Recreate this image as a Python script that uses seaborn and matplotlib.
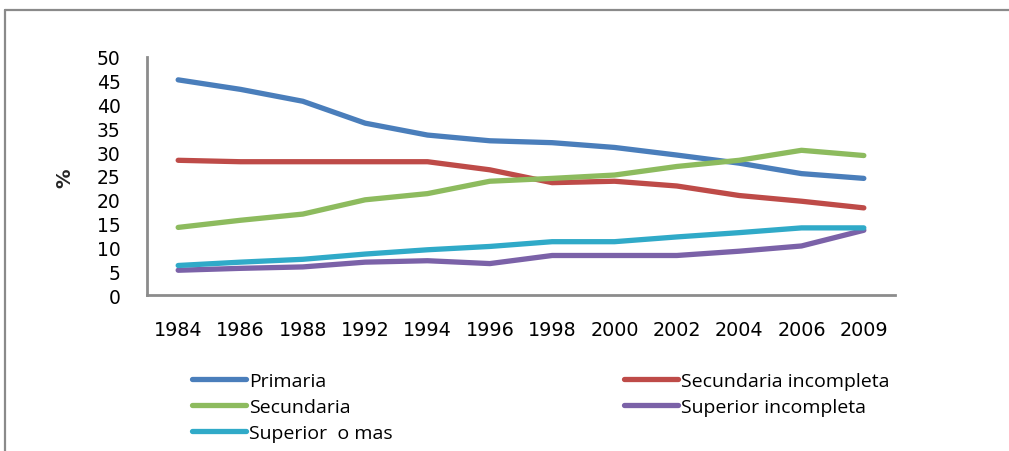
import matplotlib
matplotlib.use("Agg")
import matplotlib.pyplot as plt
from matplotlib.lines import Line2D
import seaborn as sns
import pandas as pd

years = ["1984", "1986", "1988", "1992", "1994", "1996",
         "1998", "2000", "2002", "2004", "2006", "2009"]
primaria = [45.2, 43.2, 40.7, 36.1, 33.6, 32.4, 32.0, 31.0, 29.4, 27.7, 25.5, 24.5]
secundaria_incompleta = [28.3, 28.0, 28.0, 28.0, 28.0, 26.3, 23.6, 23.9, 22.9, 20.9, 19.7, 18.3]
secundaria = [14.2, 15.7, 17.0, 20.0, 21.3, 23.9, 24.5, 25.2, 27.0, 28.3, 30.4, 29.3]
superior_incompleta = [5.2, 5.6, 5.9, 6.9, 7.2, 6.6, 8.3, 8.3, 8.3, 9.2, 10.3, 13.6]
superior_o_mas = [6.2, 6.9, 7.5, 8.6, 9.5, 10.2, 11.2, 11.2, 12.2, 13.1, 14.1, 14.1]

series_names = ["Primaria", "Secundaria incompleta", "Secundaria",
                "Superior incompleta", "Superior  o mas"]
series_values = [primaria, secundaria_incompleta, secundaria,
                 superior_incompleta, superior_o_mas]
colors = ["#4A7EBB", "#BE4B48", "#8DBB5E", "#7B62A8", "#30AAC8"]

df = pd.DataFrame(
    [(y, v, name) for name, vals in zip(series_names, series_values)
     for y, v in zip(years, vals)],
    columns=["year", "value", "serie"],
)

sns.set_theme(style="white")
plt.rcParams["font.family"] = ["DejaVu Sans"]

fig = plt.figure(figsize=(10.09, 4.52), dpi=100)
W, H = 1009, 452
ax = fig.add_axes([147 / W, 1 - 296 / H, (895 - 147) / W, (296 - 58) / H])

sns.lineplot(data=df, x="year", y="value", hue="serie", hue_order=series_names,
             palette=colors, linewidth=3.8, ax=ax, legend=False, sort=False)
for ln in ax.lines:
    ln.set_solid_capstyle("round")
    ln.set_solid_joinstyle("round")

axis_gray = "#8C8C8C"
n = len(years)
ax.set_xlim(-0.5, n - 0.5)
ax.set_ylim(0, 50)
ax.set_yticks(range(0, 51, 5))
ax.set_xticks(range(n))
ax.set_xticklabels(years)
ax.set_xticks([i - 0.5 for i in range(n + 1)], minor=True)
ax.tick_params(axis="x", which="major", length=0, pad=18, labelsize=13.8, colors="black")
ax.tick_params(axis="x", which="minor", length=5, width=2, color=axis_gray, direction="out")
ax.tick_params(axis="y", which="major", length=5, width=2, color=axis_gray,
               direction="out", pad=14, labelsize=13.5, labelcolor="black")
for side in ["top", "right"]:
    ax.spines[side].set_visible(False)
for side in ["left", "bottom"]:
    ax.spines[side].set_color(axis_gray)
    ax.spines[side].set_linewidth(2)
ax.set_xlabel("")
ax.set_ylabel("")
fig.text(65 / W, 1 - 178 / H, "%", rotation=90, ha="center", va="center",
         fontsize=14, fontweight="bold")

# legend in two columns, filled row by row
def handle(c):
    return Line2D([], [], color=c, linewidth=3.8, solid_capstyle="round")

leg_font = dict(family="Open Sans", size=14)
col1 = [0, 2, 4]
col2 = [1, 3]
for idx, x0 in ((col1, 192), (col2, 624)):
    leg = fig.legend([handle(colors[i]) for i in idx], [series_names[i] for i in idx],
                     loc="upper left", bbox_to_anchor=(x0 / W, 1 - 373 / H),
                     frameon=False, prop=leg_font, handlelength=2.8, handletextpad=0.15,
                     labelspacing=0.4, borderpad=0, borderaxespad=0)
    for t in leg.get_texts():
        t.set_color("black")

# chart area border (top and left edges)
border = dict(color="#8A8A8A", linewidth=1.6, transform=fig.transFigure)
fig.add_artist(Line2D([5 / W, 1.0], [1 - 11 / H, 1 - 11 / H], **border))
fig.add_artist(Line2D([5 / W, 5 / W], [0.0, 1 - 11 / H], **border))

fig.savefig("out.png", dpi=100)
